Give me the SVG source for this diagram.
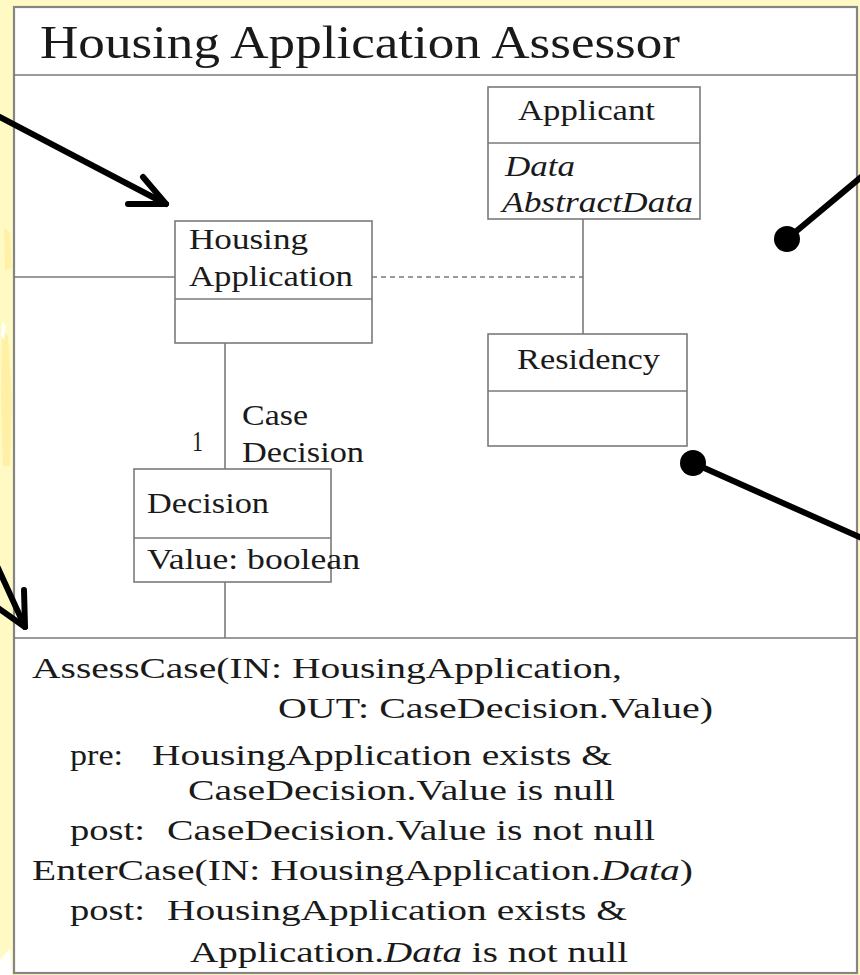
<svg xmlns="http://www.w3.org/2000/svg" width="860" height="975" viewBox="0 0 860 975">
  <style>
    .frame { fill: #ffffff; stroke: #858585; stroke-width: 2.2; }
    .box { fill: #ffffff; stroke: #7a7a7a; stroke-width: 1.6; }
    .rule { stroke: #7a7a7a; stroke-width: 1.6; fill: none; }
    .dash { stroke: #7a7a7a; stroke-width: 1.4; stroke-dasharray: 5 4; fill: none; }
    .t { font-family: "Liberation Serif", "Times New Roman", serif; fill: #1a1a1a; }
    .title { font-size: 46px; }
    .cls { font-size: 29px; }
    .op { font-size: 30px; }
    .it { font-style: italic; }
    .ink { stroke: #000000; stroke-width: 6; stroke-linecap: round; stroke-linejoin: round; fill: none; }
  </style>

  <!-- page background -->
  <rect x="0" y="0" width="860" height="975" fill="#fffac4"/>
  <path d="M4,228 L10,232 L12,268 L5,270 Z" fill="#fff2a8"/>
  <path d="M2,330 L8,336 L12,400 L10,466 L3,466 L1,400 Z" fill="#fff0a6"/>
  <path d="M2,322 L6,326 L4,340 L1,336 Z" fill="#ffffff"/>
  <path d="M0,960 L10,948 L12,975 L0,975 Z" fill="#ffffff"/>

  <!-- subsystem frame -->
  <rect class="frame" x="14" y="7" width="843" height="966"/>
  <line class="rule" x1="14" y1="75" x2="857" y2="75"/>
  <line class="rule" x1="14" y1="638" x2="857" y2="638"/>
  <text class="t title" x="40" y="58" textLength="640" lengthAdjust="spacingAndGlyphs">Housing Application Assessor</text>

  <!-- associations -->
  <g id="connectors">
    <line class="rule" x1="14" y1="277" x2="175" y2="277"/>
    <line class="dash" x1="372" y1="277" x2="583" y2="277"/>
    <line class="rule" x1="583" y1="219" x2="583" y2="334"/>
    <line class="rule" x1="225" y1="343" x2="225" y2="469"/>
    <line class="rule" x1="225" y1="582" x2="225" y2="638"/>
    <text class="t cls" x="192" y="451" textLength="11" lengthAdjust="spacingAndGlyphs">1</text>
    <text class="t cls" x="242" y="425" textLength="66" lengthAdjust="spacingAndGlyphs">Case</text>
    <text class="t cls" x="242" y="462" textLength="122" lengthAdjust="spacingAndGlyphs">Decision</text>
  </g>

  <!-- classes -->
  <g id="housing-application">
    <rect class="box" x="175" y="221" width="197" height="122"/>
    <line class="rule" x1="175" y1="299" x2="372" y2="299"/>
    <text class="t cls" x="189" y="249" textLength="119" lengthAdjust="spacingAndGlyphs">Housing</text>
    <text class="t cls" x="189" y="286" textLength="164" lengthAdjust="spacingAndGlyphs">Application</text>
  </g>

  <g id="applicant">
    <rect class="box" x="488" y="87" width="212" height="132"/>
    <line class="rule" x1="488" y1="143" x2="700" y2="143"/>
    <text class="t cls" x="518" y="120" textLength="137" lengthAdjust="spacingAndGlyphs">Applicant</text>
    <text class="t cls it" x="505" y="176" textLength="70" lengthAdjust="spacingAndGlyphs">Data</text>
    <text class="t cls it" x="502" y="212" textLength="191" lengthAdjust="spacingAndGlyphs">AbstractData</text>
  </g>

  <g id="residency">
    <rect class="box" x="488" y="334" width="199" height="112"/>
    <line class="rule" x1="488" y1="391" x2="687" y2="391"/>
    <text class="t cls" x="517" y="369" textLength="143" lengthAdjust="spacingAndGlyphs">Residency</text>
  </g>

  <g id="decision">
    <rect class="box" x="134" y="469" width="197" height="113"/>
    <line class="rule" x1="134" y1="538" x2="331" y2="538"/>
    <text class="t cls" x="147" y="513" textLength="122" lengthAdjust="spacingAndGlyphs">Decision</text>
    <text class="t cls" x="147" y="569" textLength="213" lengthAdjust="spacingAndGlyphs">Value: boolean</text>
  </g>

  <!-- operations -->
  <g id="operations">
    <text class="t op" x="32" y="678" textLength="590" lengthAdjust="spacingAndGlyphs">AssessCase(IN: HousingApplication,</text>
    <text class="t op" x="278" y="718" textLength="435" lengthAdjust="spacingAndGlyphs">OUT: CaseDecision.Value)</text>
    <text class="t op" x="70" y="765" textLength="53" lengthAdjust="spacingAndGlyphs">pre:</text>
    <text class="t op" x="152" y="765" textLength="460" lengthAdjust="spacingAndGlyphs">HousingApplication exists &amp;</text>
    <text class="t op" x="188" y="800" textLength="427" lengthAdjust="spacingAndGlyphs">CaseDecision.Value is null</text>
    <text class="t op" x="70" y="840" textLength="75" lengthAdjust="spacingAndGlyphs">post:</text>
    <text class="t op" x="167" y="840" textLength="488" lengthAdjust="spacingAndGlyphs">CaseDecision.Value is not null</text>
    <text class="t op" x="32" y="880" textLength="661" lengthAdjust="spacingAndGlyphs">EnterCase(IN: HousingApplication.<tspan class="it">Data</tspan>)</text>
    <text class="t op" x="70" y="920" textLength="75" lengthAdjust="spacingAndGlyphs">post:</text>
    <text class="t op" x="167" y="920" textLength="460" lengthAdjust="spacingAndGlyphs">HousingApplication exists &amp;</text>
    <text class="t op" x="190" y="962" textLength="438" lengthAdjust="spacingAndGlyphs">Application.<tspan class="it">Data</tspan> is not null</text>
  </g>

  <!-- callout pointers -->
  <g id="callouts">
    <line class="ink" x1="-4" y1="115" x2="166" y2="204"/>
    <polyline class="ink" points="143,177 166,204 128,204"/>
    <line class="ink" x1="-2" y1="568" x2="25" y2="627"/>
    <polyline class="ink" points="24,590 25,627 -2,608"/>
    <line class="ink" x1="787" y1="239" x2="866" y2="173"/>
    <circle cx="787" cy="239" r="13" fill="#000000"/>
    <line class="ink" x1="693" y1="463" x2="866" y2="540"/>
    <circle cx="693" cy="463" r="13" fill="#000000"/>
  </g>
</svg>
